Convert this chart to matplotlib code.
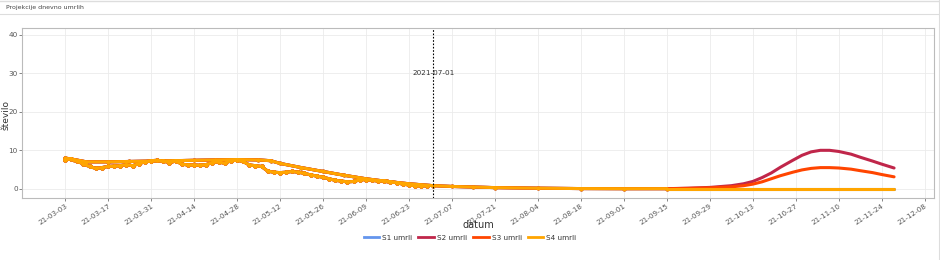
import numpy as np
import pandas as pd
import matplotlib.pyplot as plt
import matplotlib.dates as mdates
from matplotlib.lines import Line2D

# smooth model track shared by all scenarios until mid September
fit_dates = ["2021-03-03", "2021-03-06", "2021-03-10", "2021-03-17", "2021-03-24", "2021-03-31",
             "2021-04-07", "2021-04-14", "2021-04-21", "2021-04-28", "2021-05-05", "2021-05-09",
             "2021-05-12", "2021-05-19", "2021-05-26", "2021-06-02", "2021-06-09", "2021-06-16",
             "2021-06-23", "2021-07-01", "2021-07-07", "2021-07-14", "2021-07-21", "2021-08-04",
             "2021-08-18", "2021-09-01", "2021-09-15"]
fit_values = [8.0, 7.6, 7.0, 7.0, 7.1, 7.2,
              7.3, 7.4, 7.5, 7.6, 7.5, 7.3,
              6.6, 5.5, 4.5, 3.5, 2.6, 1.9,
              1.3, 0.8, 0.6, 0.45, 0.3, 0.15,
              0.05, 0.02, 0.02]

# scenario projections after mid September
proj_dates = ["2021-09-15", "2021-09-22", "2021-09-29", "2021-10-06", "2021-10-10", "2021-10-13",
              "2021-10-16", "2021-10-19", "2021-10-22", "2021-10-26", "2021-10-29", "2021-11-01",
              "2021-11-04", "2021-11-07", "2021-11-10", "2021-11-14", "2021-11-17", "2021-11-21",
              "2021-11-24", "2021-11-28"]
s1_proj = [0.02] * 20
s2_proj = [0.02, 0.15, 0.35, 0.8, 1.3, 1.9, 2.9, 4.1, 5.6, 7.4, 8.7, 9.6,
           10.0, 10.0, 9.7, 9.0, 8.2, 7.2, 6.4, 5.4]
s3_proj = [0.02, 0.1, 0.25, 0.5, 0.8, 1.2, 1.8, 2.6, 3.4, 4.3, 4.9, 5.3,
           5.5, 5.5, 5.4, 5.1, 4.7, 4.2, 3.7, 3.1]
s4_proj = [0.02] * 20

# observed daily deaths (noisy track with markers), every second day from 2021-03-03
obs_values = [7.5, 7.8, 7.2, 6.4, 5.8, 5.3, 5.5, 5.8, 5.9, 6.0, 6.3, 6.0, 6.5, 7.0, 7.3,
              7.4, 7.2, 6.8, 7.3, 6.4, 6.2, 6.2, 6.1, 6.3, 6.8, 7.0, 6.6, 7.3, 7.4, 7.1,
              6.2, 6.0, 5.8, 4.6, 4.3, 4.2, 4.3, 4.5, 4.3, 4.0, 3.6, 3.3, 3.0, 2.6, 2.2,
              2.0, 1.8, 1.9, 2.3, 2.4, 2.2, 2.0, 2.1, 1.8, 1.6, 1.2, 1.0, 0.8, 0.7, 0.8]
obs_dates = pd.date_range("2021-03-03", periods=len(obs_values), freq="2D")

names = ["S1 umrli", "S2 umrli", "S3 umrli", "S4 umrli"]
colors = ["#6495ED", "#C0264A", "#FF4500", "#FFA500"]
projs = [s1_proj, s2_proj, s3_proj, s4_proj]

fit_d = pd.to_datetime(fit_dates)
proj_d = pd.to_datetime(proj_dates)

fig = plt.figure(figsize=(9.4, 2.6), dpi=100)
ax = fig.add_axes([0.0234, 0.240, 0.9702, 0.652])

for name, c, p in zip(names, colors, projs):
    ax.plot(fit_d, fit_values, color=c, lw=2.2, marker="o", ms=1.8, solid_capstyle="round")
    ax.plot(proj_d, p, color=c, lw=2.2, solid_capstyle="round")
    ax.plot(obs_dates, obs_values, color=c, lw=2.2, marker="o", ms=2.2)

cut = pd.Timestamp("2021-07-01")
ax.axvline(cut, color="black", lw=0.8, ls=(0, (1.5, 1.5)))
ax.text(cut, 30, "2021-07-01", ha="center", va="center", fontsize=5.2, color="#333333")

ax.set_xlim(pd.Timestamp("2021-02-17"), pd.Timestamp("2021-12-11"))
ax.set_ylim(-2.3, 41.8)
ax.set_yticks([0, 10, 20, 30, 40])
ticks = pd.date_range("2021-03-03", "2021-12-08", freq="14D")
ax.set_xticks(ticks)
ax.xaxis.set_major_formatter(mdates.DateFormatter("%y-%m-%d"))
plt.setp(ax.get_xticklabels(), rotation=33, ha="right", rotation_mode="anchor")
ax.tick_params(labelsize=5.2, colors="#555555", length=2, width=0.5, pad=1.5)
ax.tick_params(axis="y", pad=1)
ax.grid(True, color="#EBEBEB", lw=0.6)
ax.set_axisbelow(True)
for s in ax.spines.values():
    s.set_color("#BBBBBB")
    s.set_linewidth(0.8)

ax.set_xlabel("datum", fontsize=7, color="#333333")
ax.set_ylabel("število", fontsize=6.5, color="#333333")
ax.xaxis.set_label_coords(0.5, -0.135)
ax.yaxis.set_label_coords(-0.0128, 0.49)

handles = [Line2D([], [], color=c, lw=2) for c in colors]
fig.legend(handles, names, loc="center", bbox_to_anchor=(0.5, 0.085), ncol=4,
           frameon=False, fontsize=5.2, handlelength=2.2, handletextpad=0.4,
           columnspacing=0.8, labelcolor="#333333")

# header strip
fig.text(0.006, 0.973, "Projekcije dnevno umrlih", fontsize=4.5, color="#444444", va="center")
fig.add_artist(Line2D([0, 1], [0.948, 0.948], transform=fig.transFigure, color="#DDDDDD", lw=0.8))
fig.add_artist(Line2D([0, 1], [0.998, 0.998], transform=fig.transFigure, color="#DDDDDD", lw=1))
fig.add_artist(Line2D([0.9985, 0.9985], [0, 1], transform=fig.transFigure, color="#DDDDDD", lw=0.8))

fig.savefig("out.png", dpi=100)
